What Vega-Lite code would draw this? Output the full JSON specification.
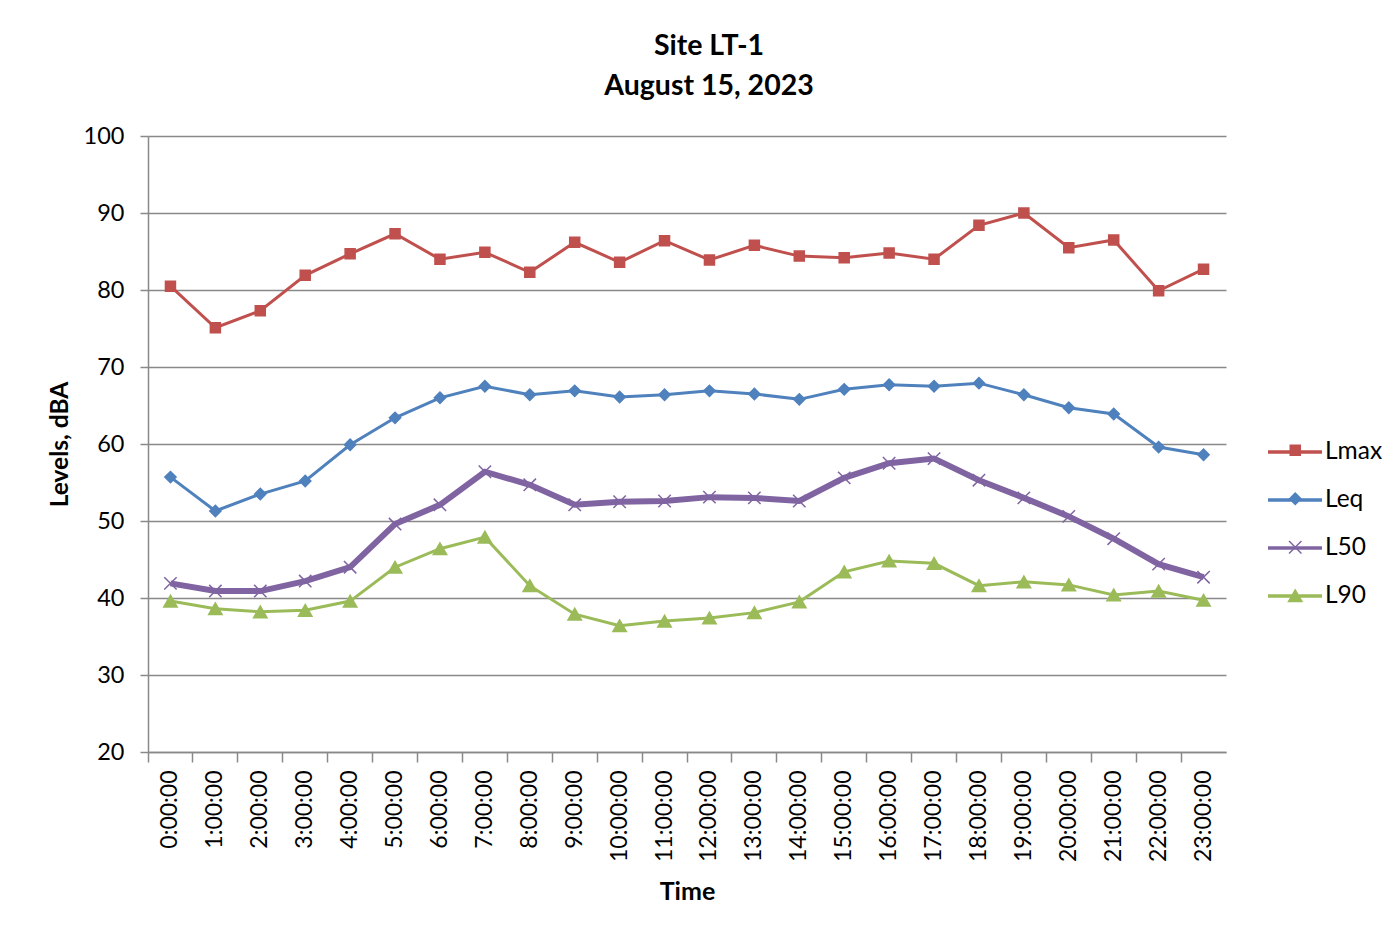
{
  "$schema": "https://vega.github.io/schema/vega-lite/v6.json",
  "autosize": "none",
  "width": 1078,
  "height": 616,
  "padding": {"left": 148, "top": 136, "right": 167, "bottom": 184},
  "background": "white",
  "config": {
    "font": "Lato",
    "view": {"stroke": null},
    "axis": {"labelColor": "black", "titleColor": "black", "labelFont": "Lato", "titleFont": "Lato"}
  },
  "title": {
    "text": ["Site LT-1", "August 15, 2023"],
    "fontSize": 28.5,
    "fontWeight": "bold",
    "color": "black",
    "anchor": "middle",
    "dx": 22,
    "lineHeight": 40,
    "offset": 24
  },
  "data": {
    "values": [
      {"time": "0:00:00", "series": "Lmax", "value": 80.5}, {"time": "0:00:00", "series": "Leq", "value": 55.7}, {"time": "0:00:00", "series": "L50", "value": 41.9}, {"time": "0:00:00", "series": "L90", "value": 39.6},
      {"time": "1:00:00", "series": "Lmax", "value": 75.1}, {"time": "1:00:00", "series": "Leq", "value": 51.3}, {"time": "1:00:00", "series": "L50", "value": 40.9}, {"time": "1:00:00", "series": "L90", "value": 38.6},
      {"time": "2:00:00", "series": "Lmax", "value": 77.3}, {"time": "2:00:00", "series": "Leq", "value": 53.5}, {"time": "2:00:00", "series": "L50", "value": 40.9}, {"time": "2:00:00", "series": "L90", "value": 38.2},
      {"time": "3:00:00", "series": "Lmax", "value": 81.9}, {"time": "3:00:00", "series": "Leq", "value": 55.2}, {"time": "3:00:00", "series": "L50", "value": 42.2}, {"time": "3:00:00", "series": "L90", "value": 38.4},
      {"time": "4:00:00", "series": "Lmax", "value": 84.7}, {"time": "4:00:00", "series": "Leq", "value": 59.9}, {"time": "4:00:00", "series": "L50", "value": 44.0}, {"time": "4:00:00", "series": "L90", "value": 39.6},
      {"time": "5:00:00", "series": "Lmax", "value": 87.3}, {"time": "5:00:00", "series": "Leq", "value": 63.4}, {"time": "5:00:00", "series": "L50", "value": 49.6}, {"time": "5:00:00", "series": "L90", "value": 44.0},
      {"time": "6:00:00", "series": "Lmax", "value": 84.0}, {"time": "6:00:00", "series": "Leq", "value": 66.0}, {"time": "6:00:00", "series": "L50", "value": 52.1}, {"time": "6:00:00", "series": "L90", "value": 46.4},
      {"time": "7:00:00", "series": "Lmax", "value": 84.9}, {"time": "7:00:00", "series": "Leq", "value": 67.5}, {"time": "7:00:00", "series": "L50", "value": 56.4}, {"time": "7:00:00", "series": "L90", "value": 47.9},
      {"time": "8:00:00", "series": "Lmax", "value": 82.3}, {"time": "8:00:00", "series": "Leq", "value": 66.4}, {"time": "8:00:00", "series": "L50", "value": 54.7}, {"time": "8:00:00", "series": "L90", "value": 41.6},
      {"time": "9:00:00", "series": "Lmax", "value": 86.2}, {"time": "9:00:00", "series": "Leq", "value": 66.9}, {"time": "9:00:00", "series": "L50", "value": 52.1}, {"time": "9:00:00", "series": "L90", "value": 37.9},
      {"time": "10:00:00", "series": "Lmax", "value": 83.6}, {"time": "10:00:00", "series": "Leq", "value": 66.1}, {"time": "10:00:00", "series": "L50", "value": 52.5}, {"time": "10:00:00", "series": "L90", "value": 36.4},
      {"time": "11:00:00", "series": "Lmax", "value": 86.4}, {"time": "11:00:00", "series": "Leq", "value": 66.4}, {"time": "11:00:00", "series": "L50", "value": 52.6}, {"time": "11:00:00", "series": "L90", "value": 37.0},
      {"time": "12:00:00", "series": "Lmax", "value": 83.9}, {"time": "12:00:00", "series": "Leq", "value": 66.9}, {"time": "12:00:00", "series": "L50", "value": 53.1}, {"time": "12:00:00", "series": "L90", "value": 37.4},
      {"time": "13:00:00", "series": "Lmax", "value": 85.8}, {"time": "13:00:00", "series": "Leq", "value": 66.5}, {"time": "13:00:00", "series": "L50", "value": 53.0}, {"time": "13:00:00", "series": "L90", "value": 38.1},
      {"time": "14:00:00", "series": "Lmax", "value": 84.4}, {"time": "14:00:00", "series": "Leq", "value": 65.8}, {"time": "14:00:00", "series": "L50", "value": 52.6}, {"time": "14:00:00", "series": "L90", "value": 39.5},
      {"time": "15:00:00", "series": "Lmax", "value": 84.2}, {"time": "15:00:00", "series": "Leq", "value": 67.1}, {"time": "15:00:00", "series": "L50", "value": 55.6}, {"time": "15:00:00", "series": "L90", "value": 43.4},
      {"time": "16:00:00", "series": "Lmax", "value": 84.8}, {"time": "16:00:00", "series": "Leq", "value": 67.7}, {"time": "16:00:00", "series": "L50", "value": 57.5}, {"time": "16:00:00", "series": "L90", "value": 44.8},
      {"time": "17:00:00", "series": "Lmax", "value": 84.0}, {"time": "17:00:00", "series": "Leq", "value": 67.5}, {"time": "17:00:00", "series": "L50", "value": 58.1}, {"time": "17:00:00", "series": "L90", "value": 44.5},
      {"time": "18:00:00", "series": "Lmax", "value": 88.4}, {"time": "18:00:00", "series": "Leq", "value": 67.9}, {"time": "18:00:00", "series": "L50", "value": 55.3}, {"time": "18:00:00", "series": "L90", "value": 41.6},
      {"time": "19:00:00", "series": "Lmax", "value": 90.0}, {"time": "19:00:00", "series": "Leq", "value": 66.4}, {"time": "19:00:00", "series": "L50", "value": 53.0}, {"time": "19:00:00", "series": "L90", "value": 42.1},
      {"time": "20:00:00", "series": "Lmax", "value": 85.5}, {"time": "20:00:00", "series": "Leq", "value": 64.7}, {"time": "20:00:00", "series": "L50", "value": 50.6}, {"time": "20:00:00", "series": "L90", "value": 41.7},
      {"time": "21:00:00", "series": "Lmax", "value": 86.5}, {"time": "21:00:00", "series": "Leq", "value": 63.9}, {"time": "21:00:00", "series": "L50", "value": 47.7}, {"time": "21:00:00", "series": "L90", "value": 40.4},
      {"time": "22:00:00", "series": "Lmax", "value": 79.9}, {"time": "22:00:00", "series": "Leq", "value": 59.6}, {"time": "22:00:00", "series": "L50", "value": 44.4}, {"time": "22:00:00", "series": "L90", "value": 40.9},
      {"time": "23:00:00", "series": "Lmax", "value": 82.7}, {"time": "23:00:00", "series": "Leq", "value": 58.6}, {"time": "23:00:00", "series": "L50", "value": 42.7}, {"time": "23:00:00", "series": "L90", "value": 39.7}
    ]
  },
  "encoding": {
    "x": {
      "field": "time",
      "type": "nominal",
      "sort": null,
      "scale": {"type": "band", "paddingInner": 0, "paddingOuter": 0},
      "axis": {
        "title": "Time",
        "titleFontSize": 25,
        "titleFontWeight": "bold",
        "titlePadding": 18,
        "labelAngle": 270,
        "labelFontSize": 23,
        "labelPadding": 8,
        "bandPosition": 0,
        "tickSize": 10,
        "tickColor": "#898989",
        "tickWidth": 1.5,
        "domainColor": "#898989",
        "domainWidth": 1.5,
        "grid": false
      }
    },
    "y": {
      "field": "value",
      "type": "quantitative",
      "scale": {"domain": [20, 100], "nice": false, "zero": false},
      "axis": {
        "title": "Levels, dBA",
        "titleFontSize": 24.5,
        "titleFontWeight": "bold",
        "titlePadding": 11,
        "values": [20, 30, 40, 50, 60, 70, 80, 90, 100],
        "labelFontSize": 23.5,
        "labelPadding": 16,
        "tickSize": 8,
        "tickColor": "#898989",
        "tickWidth": 1.5,
        "domainColor": "#898989",
        "domainWidth": 1.5,
        "grid": true,
        "gridColor": "#898989",
        "gridWidth": 1.5
      }
    }
  },
  "layer": [
    {
      "transform": [{"filter": "datum.series !== 'L50'"}],
      "mark": {"type": "line", "strokeWidth": 3},
      "encoding": {
        "color": {
          "field": "series",
          "type": "nominal",
          "sort": ["Lmax", "Leq", "L50", "L90"],
          "scale": {"range": ["#C0504D", "#4F81BD", "#8064A2", "#9BBB59"]},
          "legend": {
            "title": null,
            "orient": "none",
            "legendX": 1118,
            "legendY": 287,
            "padding": 0,
            "labelFontSize": 24.5,
            "labelFont": "Lato",
            "labelColor": "black",
            "labelOffset": 1,
            "symbolType": "stroke",
            "symbolSize": 2916,
            "symbolStrokeWidth": 3.5,
            "rowPadding": 7
          }
        }
      }
    },
    {
      "transform": [{"filter": "datum.series === 'L50'"}],
      "mark": {"type": "line", "strokeWidth": 6},
      "encoding": {
        "color": {
          "field": "series",
          "type": "nominal",
          "sort": ["Lmax", "Leq", "L50", "L90"],
          "scale": {"range": ["#C0504D", "#4F81BD", "#8064A2", "#9BBB59"]}
        }
      }
    },
    {
      "mark": {"type": "point", "filled": true, "strokeWidth": 1.5, "opacity": 1},
      "encoding": {
        "fill": {
          "field": "series",
          "type": "nominal",
          "scale": {"domain": ["Lmax", "Leq", "L50", "L90"], "range": ["#C0504D", "#4F81BD", "#8064A2", "#9BBB59"]},
          "legend": {"title": null, "orient": "none", "legendX": 1135, "legendY": 302, "padding": 0, "labelFontSize": 24.5, "labelOpacity": 0, "labelOffset": 4, "rowPadding": 23.5, "symbolOpacity": 1}
        },
        "stroke": {
          "field": "series",
          "type": "nominal",
          "scale": {"domain": ["Lmax", "Leq", "L50", "L90"], "range": ["#C0504D", "#4F81BD", "#8064A2", "#9BBB59"]},
          "legend": {"title": null, "orient": "none", "legendX": 1135, "legendY": 302, "padding": 0, "labelFontSize": 24.5, "labelOpacity": 0, "labelOffset": 4, "rowPadding": 23.5, "symbolOpacity": 1}
        },
        "shape": {
          "field": "series",
          "type": "nominal",
          "scale": {"domain": ["Lmax", "Leq", "L50", "L90"], "range": ["square", "diamond", "M-1,-1L1,1M-1,1L1,-1", "triangle-up"]},
          "legend": {"title": null, "orient": "none", "legendX": 1135, "legendY": 302, "padding": 0, "labelFontSize": 24.5, "labelOpacity": 0, "labelOffset": 4, "rowPadding": 23.5, "symbolOpacity": 1}
        },
        "size": {
          "field": "series",
          "type": "nominal",
          "scale": {"domain": ["Lmax", "Leq", "L50", "L90"], "range": [100, 180, 256, 190]},
          "legend": {"title": null, "orient": "none", "legendX": 1135, "legendY": 302, "padding": 0, "labelFontSize": 24.5, "labelOpacity": 0, "labelOffset": 4, "rowPadding": 23.5, "symbolOpacity": 1}
        }
      }
    }
  ]
}
